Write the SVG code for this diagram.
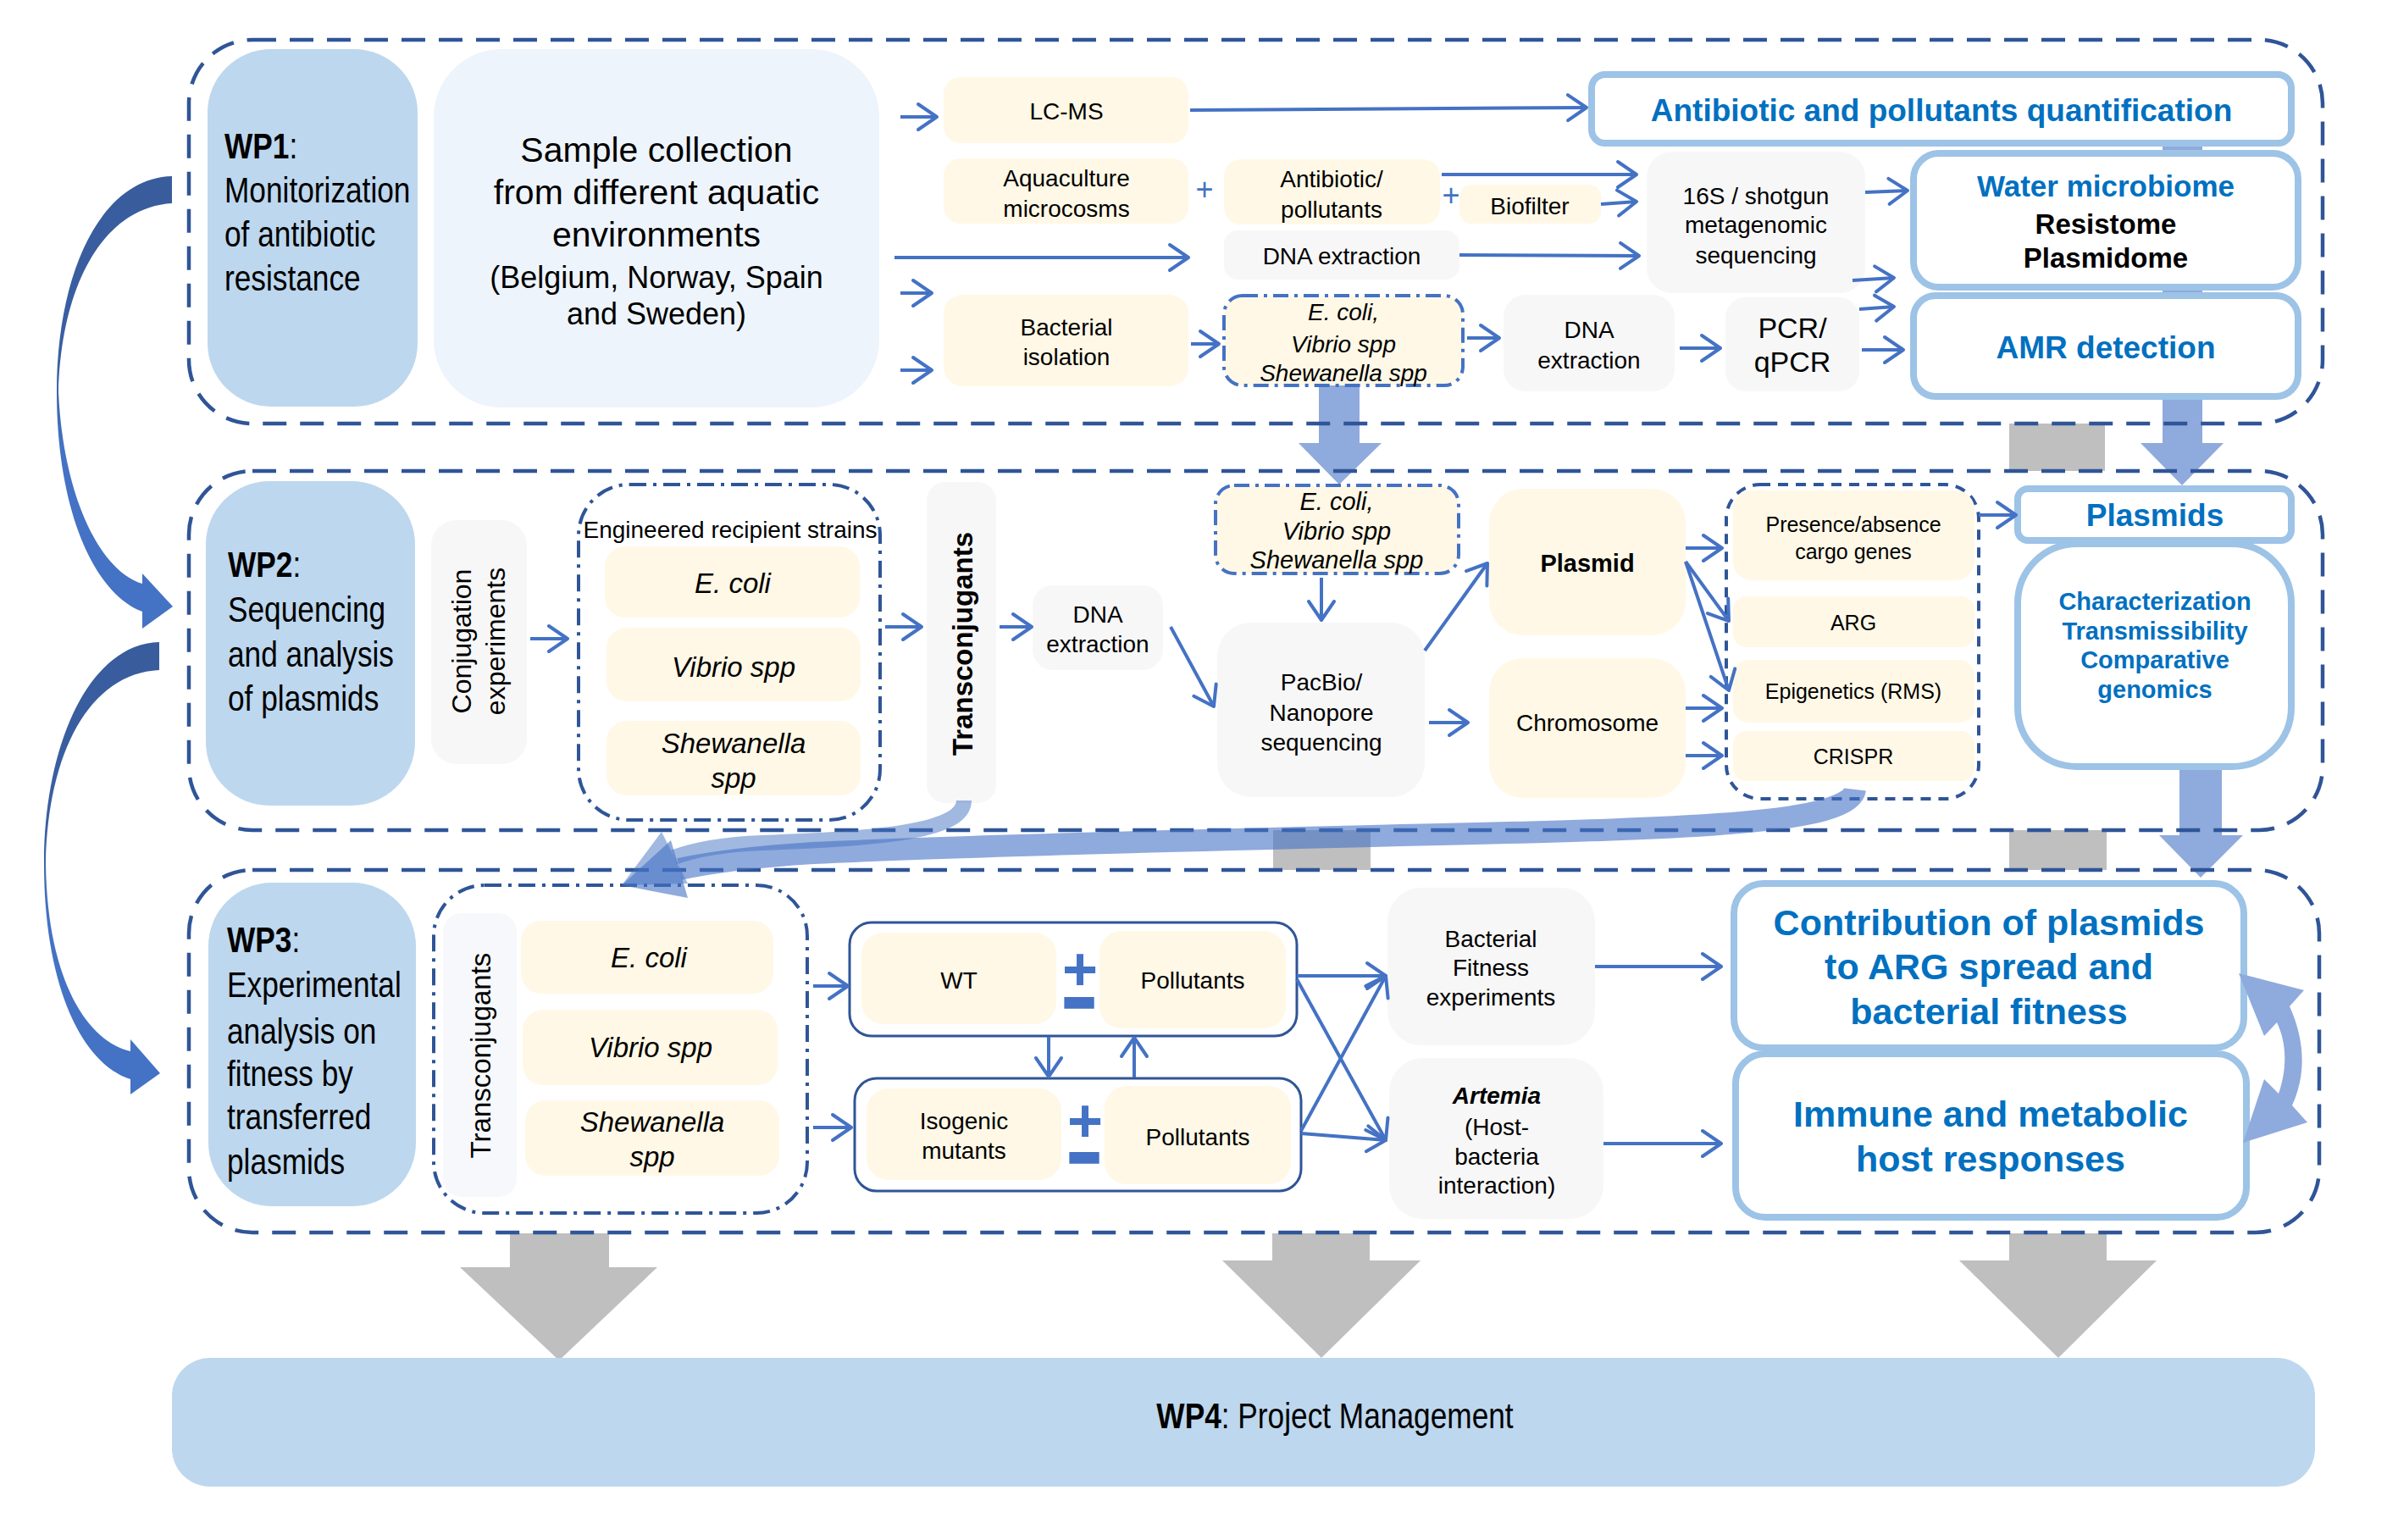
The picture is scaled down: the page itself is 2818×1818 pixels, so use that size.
<svg xmlns="http://www.w3.org/2000/svg" width="2818" height="1818" viewBox="0 0 2818 1818">
<defs>
<style>
.t{font-family:"Liberation Sans",Arial,sans-serif;fill:#000;text-anchor:middle}
.n{font-family:"Liberation Sans",Arial,sans-serif;fill:#000;font-size:43px}
.s28{font-size:28px}
.s25{font-size:25px}
.s33{font-size:33px}
.b{font-weight:bold}
.i{font-style:italic}
.bl{fill:#0070C0;font-weight:bold}
.cont{fill:none;stroke:#2F5597;stroke-width:4.5;stroke-dasharray:28 16}
.lbl{fill:#BDD7EE}
.cream{fill:#FFF8E6}
.grey{fill:#F7F7F7}
.thick{fill:#fff;stroke:#9DC3E6;stroke-width:8}
.grp{fill:#fff;stroke:#2F5597;stroke-width:3}
.dd{fill:none;stroke:#2F5597;stroke-width:4;stroke-dasharray:20 8 4 8}
.ddl{fill:#FFF8E6;stroke:#4472C4;stroke-width:4;stroke-dasharray:18 7 4 7}
.dsh{fill:none;stroke:#2F5597;stroke-width:4;stroke-dasharray:12 9}
.ar{fill:none;stroke:#4472C4;stroke-width:4;marker-end:url(#ah)}
.big{fill:#8FAADC}
.gr{fill:#BFBFBF}
.pm{fill:#4472C4;font-family:"Liberation Sans",Arial,sans-serif;text-anchor:middle}
</style>
<marker id="ah" markerUnits="userSpaceOnUse" viewBox="-26 -18 30 36" markerWidth="30" markerHeight="36" refX="0" refY="0" orient="auto">
<path d="M-22,-15 L0,0 L-22,15" fill="none" stroke="#4472C4" stroke-width="4" stroke-linecap="round" stroke-linejoin="round"/>
</marker>
<linearGradient id="cg" x1="0" y1="0" x2="0" y2="1">
<stop offset="0" stop-color="#385C9C"/>
<stop offset="0.42" stop-color="#3A5FA3"/>
<stop offset="0.6" stop-color="#4472C4"/>
<stop offset="1" stop-color="#4472C4"/>
</linearGradient>
</defs>
<rect width="2818" height="1818" fill="#fff"/>

<!-- background grey links and big arrows -->
<g id="grey-links">
<rect class="gr" x="2372" y="500" width="113" height="56"/>
<rect class="gr" x="1503" y="980" width="115" height="47"/>
<rect class="gr" x="2372" y="980" width="115" height="47"/>
<polygon class="gr" points="602,1456 719,1456 719,1496 776,1496 660,1606 543,1496 602,1496"/>
<polygon class="gr" points="1502,1456 1617,1456 1617,1488 1677,1488 1560,1603 1443,1488 1502,1488"/>
<polygon class="gr" points="2372,1456 2487,1456 2487,1488 2546,1488 2430,1603 2313,1488 2372,1488"/>
</g>
<g id="big-blue-arrows">
<polygon class="big" points="1557,455 1605,455 1605,523 1631,523 1581,572 1533,523 1557,523"/>
<polygon class="big" points="2553,165 2600,165 2600,523 2625,523 2576,573 2527,523 2553,523"/>
<polygon class="big" points="2573,900 2623,900 2623,986 2648,986 2598,1036 2549,986 2573,986"/>
</g>

<!-- containers -->
<g id="wp1">
<rect class="cont" x="223" y="47" width="2519" height="453" rx="75"/>
</g>
<g id="wp2">
<rect class="cont" x="223" y="556" width="2519" height="424" rx="75"/>
</g>
<g id="wp3">
<rect class="cont" x="223" y="1027" width="2515" height="428" rx="75"/>
</g>

<!-- WP1 nodes -->
<g id="wp1-label">
<rect class="lbl" x="245" y="58" width="248" height="422" rx="75"/>
<text class="n" transform="matrix(0.82 0 0 1 265 0)" x="0" y="187"><tspan font-weight="bold">WP1</tspan>:</text>
<text class="n" transform="matrix(0.82 0 0 1 265 0)" x="0" y="239">Monitorization</text>
<text class="n" transform="matrix(0.82 0 0 1 265 0)" x="0" y="291">of antibiotic</text>
<text class="n" transform="matrix(0.82 0 0 1 265 0)" x="0" y="343">resistance</text>
</g>
<g id="sample">
<rect x="512" y="58" width="526" height="423" rx="80" fill="#EEF4FB"/>
<text class="t" font-size="41" x="775" y="191">Sample collection</text>
<text class="t" font-size="41" x="775" y="241">from different aquatic</text>
<text class="t" font-size="41" x="775" y="291">environments</text>
<text class="t" font-size="36" x="775" y="340">(Belgium, Norway, Spain</text>
<text class="t" font-size="36" x="775" y="383">and Sweden)</text>
</g>
<g id="lcms">
<rect class="cream" x="1114" y="91" width="289" height="78" rx="20"/>
<text class="t s28" x="1259" y="141">LC-MS</text>
</g>
<g id="aquaculture">
<rect class="cream" x="1114" y="187" width="289" height="77" rx="20"/>
<text class="t s28" x="1259" y="220">Aquaculture</text>
<text class="t s28" x="1259" y="256">microcosms</text>
</g>
<text class="pm" font-size="36" x="1422" y="236">+</text>
<g id="antibiotic">
<rect class="cream" x="1445" y="188" width="255" height="77" rx="20"/>
<text class="t s28" x="1572" y="221">Antibiotic/</text>
<text class="t s28" x="1572" y="257">pollutants</text>
</g>
<text class="pm" font-size="36" x="1713" y="243">+</text>
<g id="biofilter">
<rect class="cream" x="1723" y="218" width="167" height="46" rx="14"/>
<text class="t s28" x="1806" y="253">Biofilter</text>
</g>
<g id="dna1">
<rect class="grey" x="1445" y="272" width="278" height="58" rx="16"/>
<text class="t s28" x="1584" y="312">DNA extraction</text>
</g>
<g id="seq16s">
<rect class="grey" x="1944" y="179" width="258" height="167" rx="30"/>
<text class="t s28" x="2073" y="241">16S / shotgun</text>
<text class="t s28" x="2073" y="275">metagenomic</text>
<text class="t s28" x="2073" y="311">sequencing</text>
</g>
<g id="isolation">
<rect class="cream" x="1114" y="348" width="289" height="108" rx="22"/>
<text class="t s28" x="1259" y="396">Bacterial</text>
<text class="t s28" x="1259" y="431">isolation</text>
</g>
<g id="strains1">
<rect class="ddl" x="1445" y="349" width="282" height="106" rx="22"/>
<text class="t s28 i" x="1586" y="378">E. coli,</text>
<text class="t s28 i" x="1586" y="416">Vibrio spp</text>
<text class="t s28 i" x="1586" y="450">Shewanella spp</text>
</g>
<g id="dna2">
<rect class="grey" x="1775" y="348" width="202" height="114" rx="26"/>
<text class="t s28" x="1876" y="399">DNA</text>
<text class="t s28" x="1876" y="435">extraction</text>
</g>
<g id="pcr">
<rect class="grey" x="2037" y="351" width="158" height="111" rx="24"/>
<text class="t" font-size="34" x="2116" y="399">PCR/</text>
<text class="t" font-size="34" x="2116" y="439">qPCR</text>
</g>
<g id="quant">
<rect class="thick" x="1879" y="88" width="826" height="81" rx="16"/>
<text class="t bl" font-size="37" x="2292" y="143">Antibiotic and pollutants quantification</text>
</g>
<g id="microbiome">
<rect class="thick" x="2259" y="181" width="454" height="158" rx="30"/>
<text class="t bl" font-size="35" x="2486" y="232">Water microbiome</text>
<text class="t b" font-size="33" x="2486" y="276">Resistome</text>
<text class="t b" font-size="33" x="2486" y="316">Plasmidome</text>
</g>
<g id="amr">
<rect class="thick" x="2259" y="349" width="454" height="119" rx="26"/>
<text class="t bl" font-size="37" x="2486" y="423">AMR detection</text>
</g>

<!-- WP2 nodes -->
<g id="wp2-label">
<rect class="lbl" x="243" y="568" width="247" height="383" rx="75"/>
<text class="n" transform="matrix(0.82 0 0 1 269 0)" x="0" y="681"><tspan font-weight="bold">WP2</tspan>:</text>
<text class="n" transform="matrix(0.82 0 0 1 269 0)" x="0" y="734">Sequencing</text>
<text class="n" transform="matrix(0.82 0 0 1 269 0)" x="0" y="787">and analysis</text>
<text class="n" transform="matrix(0.82 0 0 1 269 0)" x="0" y="839">of plasmids</text>
</g>
<g id="conjugation">
<rect class="grey" x="509" y="614" width="113" height="288" rx="30"/>
<text class="t" font-size="32" transform="translate(556,757) rotate(-90)">Conjugation</text>
<text class="t" font-size="32" transform="translate(596,757) rotate(-90)">experiments</text>
</g>
<g id="engineered">
<rect class="dd" x="683" y="572" width="356" height="396" rx="60"/>
<text class="t s28" x="862" y="635">Engineered recipient strains</text>
<rect class="cream" x="714" y="645" width="301" height="84" rx="24"/>
<text class="t s33 i" x="865" y="700">E. coli</text>
<rect class="cream" x="716" y="741" width="300" height="87" rx="24"/>
<text class="t s33 i" x="866" y="799">Vibrio spp</text>
<rect class="cream" x="716" y="851" width="300" height="88" rx="24"/>
<text class="t s33 i" x="866" y="889">Shewanella</text>
<text class="t s33 i" x="866" y="930">spp</text>
</g>
<g id="transconj2">
<rect class="grey" x="1094" y="569" width="82" height="379" rx="22"/>
<text class="t b s33" transform="translate(1148,760) rotate(-90)">Transconjugants</text>
</g>
<g id="dna3">
<rect class="grey" x="1219" y="691" width="154" height="100" rx="24"/>
<text class="t s28" x="1296" y="735">DNA</text>
<text class="t s28" x="1296" y="770">extraction</text>
</g>
<g id="strains2">
<rect class="ddl" x="1435" y="573" width="287" height="104" rx="22"/>
<text class="t i" font-size="29" x="1578" y="602">E. coli,</text>
<text class="t i" font-size="29" x="1578" y="637">Vibrio spp</text>
<text class="t i" font-size="29" x="1578" y="671">Shewanella spp</text>
</g>
<g id="pacbio">
<rect class="grey" x="1437" y="735" width="245" height="206" rx="40"/>
<text class="t s28" x="1560" y="815">PacBio/</text>
<text class="t s28" x="1560" y="851">Nanopore</text>
<text class="t s28" x="1560" y="886">sequencing</text>
</g>
<g id="plasmid">
<rect class="cream" x="1758" y="577" width="232" height="173" rx="40"/>
<text class="t b" font-size="29" x="1874" y="675">Plasmid</text>
</g>
<g id="chromosome">
<rect class="cream" x="1758" y="777" width="232" height="165" rx="40"/>
<text class="t s28" x="1874" y="863">Chromosome</text>
</g>
<g id="cargo">
<rect class="dsh" x="2038" y="572" width="298" height="371" rx="40"/>
<rect class="cream" x="2046" y="579" width="285" height="106" rx="22"/>
<text class="t s25" x="2188" y="628">Presence/absence</text>
<text class="t s25" x="2188" y="660">cargo genes</text>
<rect class="cream" x="2046" y="704" width="285" height="60" rx="16"/>
<text class="t s25" x="2188" y="744">ARG</text>
<rect class="cream" x="2046" y="779" width="285" height="74" rx="18"/>
<text class="t s25" x="2188" y="825">Epigenetics (RMS)</text>
<rect class="cream" x="2046" y="863" width="285" height="59" rx="16"/>
<text class="t s25" x="2188" y="902">CRISPR</text>
</g>
<g id="plasmids">
<rect class="thick" x="2382" y="577" width="323" height="61" rx="12"/>
<text class="t bl" font-size="37" x="2544" y="621">Plasmids</text>
</g>
<g id="characterization">
<rect class="thick" x="2382" y="642" width="323" height="263" rx="70"/>
<text class="t bl" font-size="29" x="2544" y="720">Characterization</text>
<text class="t bl" font-size="29" x="2544" y="755">Transmissibility</text>
<text class="t bl" font-size="29" x="2544" y="789">Comparative</text>
<text class="t bl" font-size="29" x="2544" y="824">genomics</text>
</g>

<!-- WP3 nodes -->
<g id="wp3-label">
<rect class="lbl" x="246" y="1042" width="245" height="382" rx="75"/>
<text class="n" transform="matrix(0.82 0 0 1 268 0)" x="0" y="1124"><tspan font-weight="bold">WP3</tspan>:</text>
<text class="n" transform="matrix(0.82 0 0 1 268 0)" x="0" y="1177">Experimental</text>
<text class="n" transform="matrix(0.82 0 0 1 268 0)" x="0" y="1232">analysis on</text>
<text class="n" transform="matrix(0.82 0 0 1 268 0)" x="0" y="1282">fitness by</text>
<text class="n" transform="matrix(0.82 0 0 1 268 0)" x="0" y="1333">transferred</text>
<text class="n" transform="matrix(0.82 0 0 1 268 0)" x="0" y="1386">plasmids</text>
</g>
<g id="transconj3">
<rect class="dd" x="512" y="1045" width="441" height="387" rx="60"/>
<rect x="523" y="1078" width="87" height="335" rx="22" fill="#F6F8FB"/>
<text class="t s33" transform="translate(579,1246) rotate(-90)">Transconjugants</text>
<rect class="cream" x="615" y="1087" width="298" height="86" rx="24"/>
<text class="t s33 i" x="766" y="1142">E. coli</text>
<rect class="cream" x="617" y="1192" width="301" height="89" rx="24"/>
<text class="t s33 i" x="768" y="1248">Vibrio spp</text>
<rect class="cream" x="620" y="1299" width="300" height="89" rx="24"/>
<text class="t s33 i" x="770" y="1336">Shewanella</text>
<text class="t s33 i" x="770" y="1377">spp</text>
</g>
<g id="wt">
<rect class="grp" x="1003" y="1089" width="528" height="134" rx="26"/>
<rect class="cream" x="1017" y="1101" width="230" height="108" rx="26"/>
<text class="t s28" x="1132" y="1167">WT</text>
<rect class="cream" x="1298" y="1099" width="220" height="115" rx="26"/>
<text class="t s28" x="1408" y="1167">Pollutants</text>
<text class="pm"><tspan font-weight="bold" font-size="72" x="1275" y="1169">+</tspan><tspan font-size="52" x="1274" y="1201" stroke="#4472C4" stroke-width="10">−</tspan></text>
</g>
<g id="isogenic">
<rect class="grp" x="1009" y="1273" width="527" height="133" rx="26"/>
<rect class="cream" x="1023" y="1285" width="230" height="108" rx="26"/>
<text class="t s28" x="1138" y="1333">Isogenic</text>
<text class="t s28" x="1138" y="1368">mutants</text>
<rect class="cream" x="1304" y="1282" width="220" height="116" rx="26"/>
<text class="t s28" x="1414" y="1352">Pollutants</text>
<text class="pm"><tspan font-weight="bold" font-size="72" x="1281" y="1348">+</tspan><tspan font-size="52" x="1280" y="1384" stroke="#4472C4" stroke-width="10">−</tspan></text>
</g>
<g id="fitness">
<rect class="grey" x="1638" y="1048" width="245" height="186" rx="40"/>
<text class="t s28" x="1760" y="1118">Bacterial</text>
<text class="t s28" x="1760" y="1152">Fitness</text>
<text class="t s28" x="1760" y="1187">experiments</text>
</g>
<g id="artemia">
<rect class="grey" x="1640" y="1249" width="253" height="190" rx="40"/>
<text class="t s28 b i" x="1767" y="1303">Artemia</text>
<text class="t s28" x="1767" y="1340">(Host-</text>
<text class="t s28" x="1767" y="1375">bacteria</text>
<text class="t s28" x="1767" y="1409">interaction)</text>
</g>
<g id="contribution">
<rect class="thick" x="2047" y="1043" width="602" height="194" rx="35"/>
<text class="t bl" font-size="43" x="2348" y="1104">Contribution of plasmids</text>
<text class="t bl" font-size="43" x="2348" y="1156">to ARG spread and</text>
<text class="t bl" font-size="43" x="2348" y="1209">bacterial fitness</text>
</g>
<g id="immune">
<rect class="thick" x="2049" y="1244" width="603" height="193" rx="35"/>
<text class="t bl" font-size="43" x="2350" y="1330">Immune and metabolic</text>
<text class="t bl" font-size="43" x="2350" y="1383">host responses</text>
</g>

<!-- WP4 -->
<g id="wp4">
<rect class="lbl" x="203" y="1603" width="2530" height="152" rx="45"/>
<text class="n" text-anchor="middle" transform="matrix(0.82 0 0 1 1576 0)" x="0" y="1686"><tspan font-weight="bold">WP4</tspan>: Project Management</text>
</g>

<!-- connectors -->
<g id="connectors">
<line class="ar" x1="1063" y1="138" x2="1106" y2="138"/>
<line class="ar" x1="1405" y1="130" x2="1873" y2="127"/>
<line class="ar" x1="1056" y1="304" x2="1403" y2="304"/>
<line class="ar" x1="1723" y1="301" x2="1935" y2="302"/>
<line class="ar" x1="1702" y1="206" x2="1932" y2="206"/>
<line class="ar" x1="1890" y1="241" x2="1932" y2="238"/>
<line class="ar" x1="2202" y1="227" x2="2252" y2="225"/>
<line class="ar" x1="2187" y1="331" x2="2236" y2="328"/>
<line class="ar" x1="2195" y1="365" x2="2236" y2="362"/>
<line class="ar" x1="2198" y1="413" x2="2247" y2="413"/>
<line class="ar" x1="1063" y1="346" x2="1100" y2="346"/>
<line class="ar" x1="1063" y1="437" x2="1100" y2="437"/>
<line class="ar" x1="1406" y1="406" x2="1439" y2="406"/>
<line class="ar" x1="1732" y1="399" x2="1770" y2="399"/>
<line class="ar" x1="1983" y1="411" x2="2031" y2="411"/>

<line class="ar" x1="626" y1="754" x2="670" y2="754"/>
<line class="ar" x1="1045" y1="740" x2="1088" y2="740"/>
<line class="ar" x1="1180" y1="740" x2="1218" y2="740"/>
<line class="ar" x1="1382" y1="740" x2="1433" y2="834"/>
<line class="ar" x1="1560" y1="682" x2="1560" y2="732"/>
<line class="ar" x1="1682" y1="768" x2="1756" y2="665"/>
<line class="ar" x1="1687" y1="853" x2="1733" y2="853"/>
<line class="ar" x1="1990" y1="647" x2="2033" y2="647"/>
<line class="ar" x1="1990" y1="663" x2="2041" y2="733"/>
<line class="ar" x1="1990" y1="663" x2="2041" y2="815"/>
<line class="ar" x1="1990" y1="836" x2="2033" y2="836"/>
<line class="ar" x1="1990" y1="892" x2="2033" y2="892"/>
<line class="ar" x1="2336" y1="608" x2="2380" y2="608"/>

<line class="ar" x1="960" y1="1164" x2="1001" y2="1164"/>
<line class="ar" x1="960" y1="1331" x2="1005" y2="1331"/>
<line class="ar" x1="1238" y1="1224" x2="1238" y2="1271"/>
<line class="ar" x1="1339" y1="1272" x2="1339" y2="1225"/>
<line class="ar" x1="1531" y1="1152" x2="1636" y2="1152"/>
<line class="ar" x1="1531" y1="1156" x2="1636" y2="1346"/>
<line class="ar" x1="1536" y1="1335" x2="1636" y2="1152"/>
<line class="ar" x1="1536" y1="1338" x2="1636" y2="1346"/>
<line class="ar" x1="1883" y1="1141" x2="2032" y2="1141"/>
<line class="ar" x1="1893" y1="1350" x2="2032" y2="1350"/>

<!-- curved band arrows WP2 -> WP3 -->
<path d="M1138,945 C1138,985 1020,990 900,995 C850,997 820,1003 796,1012" fill="none" stroke="#4472C4" stroke-opacity="0.5" stroke-width="18"/>
<polygon points="781,982 734,1045 812,1043" fill="#4472C4" fill-opacity="0.5"/>
<path d="M2190,932 C2185,972 2000,978 1700,985 C1400,992 1100,1000 960,1007 C880,1012 830,1020 802,1026" fill="none" stroke="#4472C4" stroke-opacity="0.6" stroke-width="26"/>
<polygon points="792,992 734,1045 812,1060" fill="#4472C4" fill-opacity="0.6"/>

<!-- double curved arrow WP3 right -->
<path class="big" d="M2643,1149 L2720,1169 L2703,1188 C2722,1230 2722,1270 2706,1305 L2724,1325 L2648,1349 L2673,1274 L2690,1291 C2700,1262 2700,1232 2688,1207 L2673,1223 Z"/>

<!-- left curved arrows -->
<path fill="url(#cg)" d="M203,208 C120,210 67,320 67,463 C67,600 110,700 168,722 L168,742 L204,716 L168,677 L168,689 C120,675 75,590 69,463 C72,340 120,245 203,240 Z"/>
<path fill="url(#cg)" d="M188,758 C105,760 52,880 52,1020 C52,1160 95,1255 154,1274 L154,1292 L189,1267 L154,1227 L154,1241 C105,1230 56,1160 54,1020 C56,890 105,795 188,791 Z"/>
</g>
</svg>
